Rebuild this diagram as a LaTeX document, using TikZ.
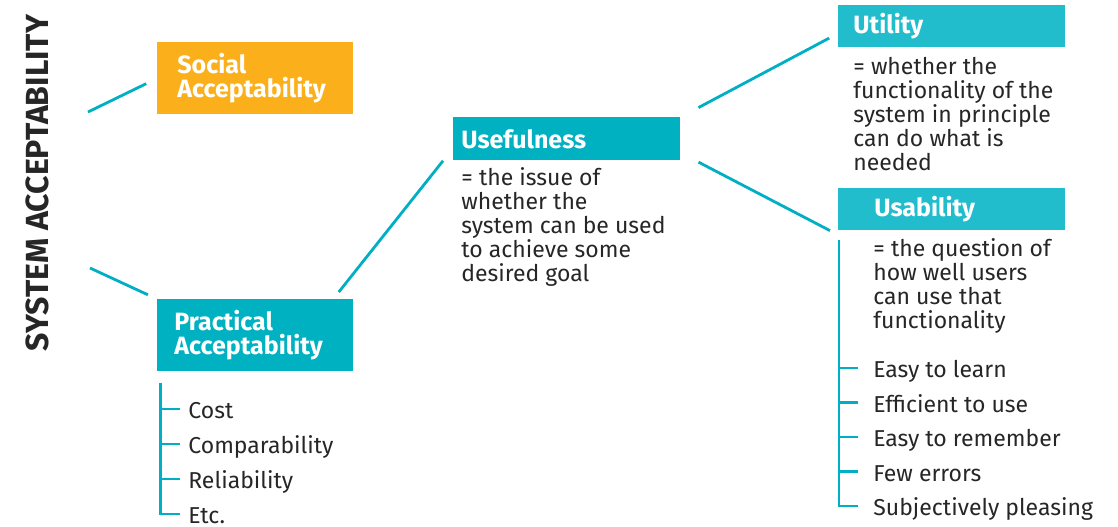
\documentclass[tikz,border=0pt]{standalone}
\usepackage{fontspec}
\setmainfont{Fira Sans}
\usepackage{xcolor}
\usepackage{tikz}
\usetikzlibrary{positioning}
\definecolor{sunorange}{HTML}{FBB01B}
\definecolor{deepteal}{HTML}{00B1C2}
\definecolor{lightteal}{HTML}{21BDCC}
\definecolor{linkteal}{HTML}{00AFC3}
\definecolor{inkgray}{HTML}{262626}
\tikzstyle{title}=[%
      rotate=90, text=inkgray, inner sep=0pt,
      font=\bfseries\fontsize{16}{18}\selectfont
]
\tikzstyle{tile}=[%
      rectangle, anchor=north west, text=white, inner ysep=0pt, align=left,
      font=\bfseries\fontsize{12.5}{12}\selectfont
]
\tikzstyle{note}=[%
      anchor=base west, text=inkgray, inner sep=0pt, align=left,
      font=\fontsize{11.5}{12}\selectfont
]
\tikzstyle{item}=[%
      anchor=west, text=inkgray, inner ysep=0pt, text height=9.5pt, text depth=0pt,
      font=\fontsize{11.5}{12}\selectfont
]
\tikzstyle{branch}=[%
      draw=linkteal, line width=1.4pt
]

\begin{document}
\begin{tikzpicture}[x=0.5pt, y=-0.5pt]
    \useasboundingbox (0,0) rectangle (1118,526);

    \node[title] (sys) at (37,183) {SYSTEM ACCEPTABILITY};

    \node[tile, fill=sunorange, minimum height=36pt, text width=78pt, inner xsep=10pt]
          (social) at (157,42) {Social\\Acceptability};
    \node[tile, fill=deepteal, minimum height=36pt, text width=81pt, inner xsep=8.5pt]
          (practical) at (157,299) {Practical\\Acceptability};
    \node[tile, fill=deepteal, minimum height=21.5pt, text width=105.5pt, inner xsep=4pt]
          (useful) at (453,117) {Usefulness};
    \node[tile, fill=lightteal, minimum height=21pt, text width=98.5pt, inner xsep=7.5pt]
          (utility) at (838,5) {Utility};
    \node[tile, fill=lightteal, minimum height=21pt, text width=77.5pt, inner xsep=18pt]
          (usability) at (838,188) {Usability};

    % base of a multi-line note is its last line
    \node[note] (usefuldef) at (461,281)
          {= the issue of\\whether the\\system can be used\\to achieve some\\desired goal};
    \node[note] (utilitydef) at (853,170)
          {= whether the\\functionality of the\\system in principle\\can do what is\\needed};
    \node[note] (usabilitydef) at (873,328)
          {= the question of\\how well users\\can use that\\functionality};

    \coordinate (rootA) at (88,112);
    \coordinate (rootB) at (90,268);
    \draw[branch, shorten >=6pt] (rootA) -- (social.west);
    \draw[branch, shorten >=5pt] (rootB) -- (practical.north west);
    \draw[branch] ([shift={(-7.5pt,3.5pt)}]practical.north east) -- ([xshift=-5pt]useful.south west);
    \draw[branch, shorten <=10pt, shorten >=5pt] (useful.north east) -- ([yshift=-3.5pt]utility.west);
    \draw[branch, shorten <=10pt, shorten >=4.5pt] ([yshift=-7pt]useful.east) -- ([yshift=-2pt]usability.south west);

    % practical acceptability list
    \coordinate (pstem) at (160.5,383);
    \foreach \name/\txt [count=\i from 0] in {cost/Cost, compar/Comparability, relia/Reliability, etc/Etc.}
      \node[item, inner xsep=4pt] (\name) at (180,409+35*\i) {\txt};
    \draw[branch] (pstem) |- (etc.west);
    \foreach \name in {cost, compar, relia}
      \draw[branch] (pstem |- \name.west) -- (\name.west);

    % usability list
    \coordinate (ustem) at (839,240);
    \foreach \name/\txt [count=\i from 0] in {learn/Easy to learn, effic/Efficient to use,
        remem/Easy to remember, errors/Few errors, pleas/Subjectively pleasing}
      \node[item, inner xsep=7.5pt] (\name) at (858,368+34.5*\i) {\txt};
    \draw[branch] (ustem) |- (pleas.west);
    \foreach \name in {learn, effic, remem, errors}
      \draw[branch] (ustem |- \name.west) -- (\name.west);
\end{tikzpicture}
\end{document}
